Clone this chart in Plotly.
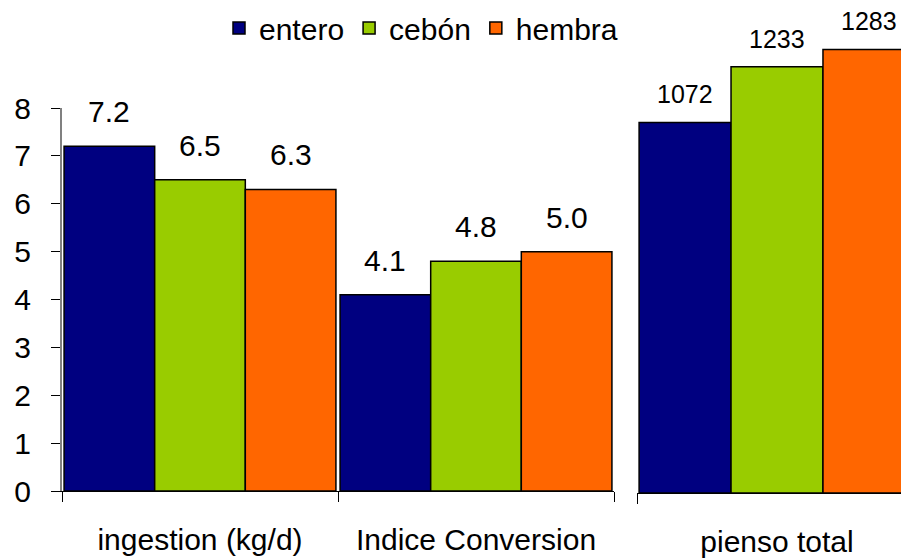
import plotly.graph_objects as go

GROUPS = ['entero', 'cebón', 'hembra']
COLORS = ['#000080', '#99CC00', '#FF6600']

LEFT_CATS = ['ingestion (kg/d)', 'Indice Conversion']
LEFT_VALUES = {
    'entero': [7.2, 4.1],
    'cebón': [6.5, 4.8],
    'hembra': [6.3, 5.0],
}

RIGHT_CATS = ['pienso total']
RIGHT_VALUES = {
    'entero': [1072],
    'cebón': [1233],
    'hembra': [1283],
}

FONT = 'Liberation Sans, Arial, sans-serif'
W, H = 909, 559
OFF = 8  # page body margin in the browser
BARGAP = 0.015


def px_x(x):
    return (x - OFF) / W


def px_y(y):
    return (H - (y - OFF)) / H


fig = go.Figure()
for g, c in zip(GROUPS, COLORS):
    fig.add_trace(go.Bar(
        x=LEFT_CATS, y=LEFT_VALUES[g], name=g, legendgroup=g,
        marker=dict(color=c, line=dict(color='black', width=1.5)),
        xaxis='x', yaxis='y',
    ))
    fig.add_trace(go.Bar(
        x=RIGHT_CATS, y=RIGHT_VALUES[g], name=g, legendgroup=g, showlegend=False,
        marker=dict(color=c, line=dict(color='black', width=1.5)),
        xaxis='x2', yaxis='y2',
    ))

# value labels above the bars
annotations = []
for i, g in enumerate(GROUPS):
    shift = (i - 1) * (1 - BARGAP) / 3
    for j, v in enumerate(LEFT_VALUES[g]):
        annotations.append(dict(x=j + shift, y=v, xref='x', yref='y', text=f'{v:.1f}',
                                showarrow=False, yanchor='bottom', yshift=16,
                                font=dict(size=30)))
    for j, v in enumerate(RIGHT_VALUES[g]):
        annotations.append(dict(x=j + shift, y=v, xref='x2', yref='y2', text=str(v),
                                showarrow=False, yanchor='bottom', yshift=12,
                                font=dict(size=25)))

fig.update_layout(
    width=W, height=H,
    margin=dict(l=0, r=0, t=0, b=0, autoexpand=False),
    paper_bgcolor='white', plot_bgcolor='white',
    font=dict(family=FONT, size=30, color='black'),
    barmode='group', bargap=BARGAP, bargroupgap=0,
    showlegend=True,
    legend=dict(orientation='h', x=px_x(421), y=px_y(28), xanchor='center', yanchor='middle',
                font=dict(size=30), itemwidth=30, tracegroupgap=0, bgcolor='rgba(0,0,0,0)'),
    annotations=annotations,
    xaxis=dict(domain=[px_x(62), px_x(614)], range=[-0.5, 1.5], showline=True, linecolor='black',
               linewidth=1, ticks='outside', tickson='boundaries', ticklen=10, tickcolor='black',
               ticklabelstandoff=22, showgrid=False, anchor='y', automargin=False),
    yaxis=dict(domain=[px_y(491), px_y(108)], range=[0, 8], dtick=1, showline=True,
               linecolor='#808080', linewidth=2, ticks='outside', ticklen=9, tickcolor='black',
               ticklabelstandoff=14, showgrid=False, zeroline=False, anchor='x',
               automargin=False),
    xaxis2=dict(domain=[px_x(637), 1.0], range=[-0.5, 0.5], showline=True, linecolor='black',
                linewidth=1, ticks='outside', tickson='boundaries', ticklen=10, tickcolor='black',
                ticklabelstandoff=22, showgrid=False, anchor='y2', automargin=False),
    yaxis2=dict(domain=[px_y(493), px_y(9)], range=[0, 1400], showline=False,
                showticklabels=False, showgrid=False, zeroline=False, anchor='x2',
                automargin=False),
)

fig.write_html('out.html')
